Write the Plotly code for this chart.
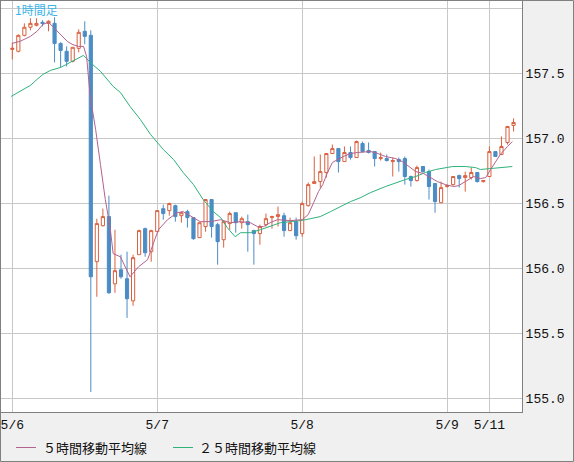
import plotly.graph_objects as go

# hourly candles, index 0 = 5/6 00:00
opens = [157.684, 157.669, 157.792, 157.854, 157.869, 157.892, 157.884, 157.884, 157.730, 157.669,
         157.592, 157.692, 157.823, 157.792, 156.051, 156.328, 156.398, 155.881, 155.989, 155.920,
         155.750, 156.105, 156.305, 156.128, 156.282, 156.459, 156.444, 156.482, 156.405, 156.436,
         156.390, 156.236, 156.321, 156.529, 156.336, 156.220, 156.344, 156.428, 156.351, 156.359,
         156.290, 156.267, 156.336, 156.390, 156.398, 156.405, 156.290, 156.359, 156.267, 156.482,
         156.652, 156.667, 156.737, 156.883, 156.921, 156.821, 156.891, 156.852, 156.960, 156.906,
         156.898, 156.844, 156.844, 156.821, 156.837, 156.844, 156.706, 156.675, 156.783, 156.744,
         156.652, 156.505, 156.629, 156.644, 156.713, 156.698, 156.698, 156.737, 156.667, 156.706,
         156.898, 156.875, 156.968, 157.099]
highs = [157.738, 157.800, 157.884, 157.923, 157.923, 157.908, 157.908, 157.931, 157.738, 157.707,
         157.700, 157.838, 157.900, 157.831, 156.382, 156.459, 156.559, 156.297, 156.105, 156.128,
         156.105, 156.297, 156.313, 156.297, 156.444, 156.490, 156.505, 156.490, 156.436, 156.451,
         156.390, 156.351, 156.529, 156.529, 156.351, 156.359, 156.436, 156.428, 156.398, 156.413,
         156.297, 156.336, 156.421, 156.405, 156.475, 156.428, 156.390, 156.390, 156.513, 156.660,
         156.860, 156.875, 156.883, 156.952, 156.921, 156.937, 156.937, 156.983, 156.975, 156.968,
         156.898, 156.891, 156.875, 156.852, 156.852, 156.860, 156.713, 156.790, 156.783, 156.760,
         156.652, 156.667, 156.644, 156.706, 156.721, 156.744, 156.775, 156.737, 156.675, 156.937,
         156.898, 157.014, 157.091, 157.153]
lows = [157.607, 157.661, 157.784, 157.831, 157.861, 157.861, 157.823, 157.584, 157.545, 157.553,
        157.584, 157.661, 157.723, 155.049, 155.781, 156.321, 155.804, 155.812, 155.920, 155.619,
        155.712, 156.105, 156.089, 156.051, 156.282, 156.374, 156.405, 156.359, 156.351, 156.313,
        156.220, 156.236, 156.282, 156.236, 156.028, 156.159, 156.297, 156.274, 156.305, 156.128,
        156.028, 156.181, 156.321, 156.305, 156.321, 156.243, 156.290, 156.220, 156.243, 156.475,
        156.652, 156.621, 156.698, 156.883, 156.737, 156.821, 156.837, 156.852, 156.891, 156.883,
        156.783, 156.829, 156.821, 156.706, 156.744, 156.644, 156.629, 156.667, 156.737, 156.529,
        156.428, 156.505, 156.621, 156.636, 156.621, 156.590, 156.683, 156.660, 156.660, 156.706,
        156.860, 156.875, 156.952, 157.052]
closes = [157.692, 157.792, 157.854, 157.884, 157.884, 157.884, 157.900, 157.730, 157.676, 157.592,
          157.700, 157.815, 157.784, 155.935, 156.344, 156.398, 155.812, 155.982, 155.935, 155.766,
          156.082, 156.290, 156.120, 156.290, 156.444, 156.421, 156.498, 156.398, 156.428, 156.390,
          156.228, 156.351, 156.529, 156.321, 156.205, 156.359, 156.421, 156.351, 156.382, 156.336,
          156.267, 156.321, 156.382, 156.398, 156.413, 156.290, 156.351, 156.251, 156.498, 156.644,
          156.667, 156.744, 156.883, 156.921, 156.821, 156.891, 156.852, 156.975, 156.898, 156.891,
          156.844, 156.852, 156.829, 156.829, 156.821, 156.706, 156.675, 156.775, 156.744, 156.629,
          156.513, 156.621, 156.636, 156.706, 156.690, 156.713, 156.737, 156.667, 156.675, 156.898,
          156.860, 156.937, 157.091, 157.122]
hours = list(range(len(opens)))

# moving averages (hour index, price)
ma5_x = [0, 1.3, 3.0, 4.1, 5.1, 6.0, 6.8, 8.0, 9.1, 9.9, 10.9, 11.8, 12.3, 12.9, 13.8, 14.6, 15.4,
         16.2, 16.7, 17.9, 18.7, 19.5, 20.9, 22.4, 23.4, 24.2, 25.7, 27.3, 28.3, 30.0, 31.1, 32.8,
         34.5, 36.1, 37.8, 39.4, 40.6, 41.6, 42.7, 43.9, 46.1, 48.0, 49.0, 49.9, 50.7, 51.4, 52.2,
         53.0, 53.8, 54.8, 56.0, 57.2, 59.3, 60.1, 61.8, 63.5, 64.6, 65.6, 66.8, 68.1, 69.3, 70.4,
         71.7, 73.1, 73.9, 75.0, 76.4, 77.5, 78.4, 79.2, 80.0, 80.8, 82.0, 82.8]
ma5_y = [157.730, 157.746, 157.784, 157.823, 157.877, 157.892, 157.854, 157.800, 157.746, 157.723,
         157.707, 157.707, 157.630, 157.322, 157.068, 156.798, 156.529, 156.313, 156.113, 156.089,
         156.005, 155.935, 156.012, 156.066, 156.197, 156.297, 156.374, 156.428, 156.436, 156.390,
         156.359, 156.359, 156.374, 156.351, 156.359, 156.351, 156.321, 156.321, 156.351, 156.374,
         156.367, 156.374, 156.413, 156.505, 156.590, 156.644, 156.737, 156.814, 156.837, 156.860,
         156.883, 156.891, 156.898, 156.891, 156.860, 156.844, 156.821, 156.783, 156.744, 156.729,
         156.698, 156.667, 156.644, 156.629, 156.636, 156.667, 156.706, 156.690, 156.698, 156.760,
         156.821, 156.875, 156.937, 156.975]
ma25_x = [-0.2, 1.3, 3.0, 4.1, 5.1, 6.3, 8.0, 9.6, 10.9, 11.8, 12.9, 14.6, 16.7, 17.9, 19.5, 21.2,
          22.9, 25.0, 26.7, 28.3, 30.0, 31.6, 33.3, 34.5, 35.6, 36.9, 37.8, 39.4, 41.1, 42.7, 44.4,
          46.1, 47.7, 49.4, 51.0, 52.7, 54.3, 56.0, 57.7, 59.3, 61.8, 63.5, 65.1, 66.8, 68.4, 70.1,
          71.7, 72.9, 75.0, 76.7, 77.5, 79.2, 80.8, 82.8]
ma25_y = [157.322, 157.361, 157.407, 157.453, 157.492, 157.522, 157.545, 157.584, 157.615, 157.638,
          157.584, 157.515, 157.399, 157.353, 157.245, 157.145, 157.029, 156.914, 156.837, 156.737,
          156.644, 156.529, 156.436, 156.390, 156.313, 156.243, 156.274, 156.274, 156.297, 156.321,
          156.351, 156.359, 156.367, 156.382, 156.398, 156.436, 156.475, 156.513, 156.544, 156.582,
          156.629, 156.660, 156.683, 156.706, 156.737, 156.760, 156.775, 156.783, 156.783, 156.775,
          156.760, 156.767, 156.775, 156.783]

day_ticks = [0, 24, 48, 72, 79]
day_labels = ["5/6", "5/7", "5/8", "5/9", "5/11"]
price_ticks = [155.0, 155.5, 156.0, 156.5, 157.0, 157.5, 158.0]
price_labels = ["155.0", "155.5", "156.0", "156.5", "157.0", "157.5", ""]

UP = "#d9603e"
DOWN = "#4b8cc4"
MA5_COLOR = "#b4628e"
MA25_COLOR = "#2eb27a"

fig = go.Figure()
fig.add_trace(go.Scatter(x=ma25_x, y=ma25_y, mode="lines",
                         line=dict(color=MA25_COLOR, width=1), hoverinfo="skip"))
fig.add_trace(go.Candlestick(x=hours, open=opens, high=highs, low=lows, close=closes,
                             increasing=dict(line=dict(color=UP, width=1), fillcolor="white"),
                             decreasing=dict(line=dict(color=DOWN, width=1), fillcolor=DOWN),
                             whiskerwidth=0))
fig.add_trace(go.Scatter(x=ma5_x, y=ma5_y, mode="lines",
                         line=dict(color=MA5_COLOR, width=1), hoverinfo="skip"))

# plot area spans pixels 1..522 horizontally and 1..412 vertically
W, H = 574, 462
L, R, T, B = 1, 52, 1, 50
pw, ph = W - L - R, H - T - B

def px(x):
    return (x - L) / pw

def py(y):
    return (T + ph - y) / ph

fig.update_layout(
    width=W, height=H,
    margin=dict(l=L, r=R, t=T, b=B),
    paper_bgcolor="#f0f0f0",
    plot_bgcolor="white",
    showlegend=False,
    boxgap=0.25,
    font=dict(family="Liberation Mono", size=13, color="#111111"),
)
fig.update_xaxes(range=[-1.87, 84.4], tickvals=day_ticks, ticktext=day_labels,
                 showgrid=True, gridcolor="#c8c8c8", gridwidth=1,
                 showline=True, mirror=True, linecolor="#808080", linewidth=1,
                 ticks="", zeroline=False, rangeslider=dict(visible=False),
                 tickfont=dict(family="Liberation Mono", size=13, color="#111111"))
fig.update_yaxes(range=[154.895, 158.056], tickvals=price_ticks, ticktext=price_labels,
                 side="right", showgrid=True, gridcolor="#c8c8c8", gridwidth=1,
                 showline=True, mirror=True, linecolor="#808080", linewidth=1,
                 ticks="", zeroline=False,
                 tickfont=dict(family="Liberation Mono", size=13, color="#111111"))

# title
fig.add_annotation(text="1時間足", xref="paper", yref="paper", x=px(13), y=py(9.5),
                   xanchor="left", yanchor="middle", showarrow=False,
                   font=dict(family="Noto Sans CJK JP", size=12, color="#3cb4e6"))

# legend drawn by hand
for lx0, lx1, tx, name, col in [(16, 36, 41, "５時間移動平均線", MA5_COLOR),
                                 (173, 193, 197, "２５時間移動平均線", MA25_COLOR)]:
    fig.add_shape(type="line", xref="paper", yref="paper", x0=px(lx0), x1=px(lx1),
                  y0=py(447.5), y1=py(447.5), line=dict(color=col, width=1))
    fig.add_annotation(text=name, xref="paper", yref="paper", x=px(tx), y=py(448),
                       xanchor="left", yanchor="middle", showarrow=False,
                       font=dict(family="Noto Sans CJK JP", size=13, color="#111111"))

# outer frame
fig.add_shape(type="rect", xref="paper", yref="paper", x0=px(0.5), x1=px(573.5),
              y0=py(461.5), y1=py(0.5), line=dict(color="#808080", width=1))

# drop the page's default body margin so the chart sits at the window corner
fig.write_html("out.html", config={"displayModeBar": False},
               post_script="document.body.style.margin='0';")
